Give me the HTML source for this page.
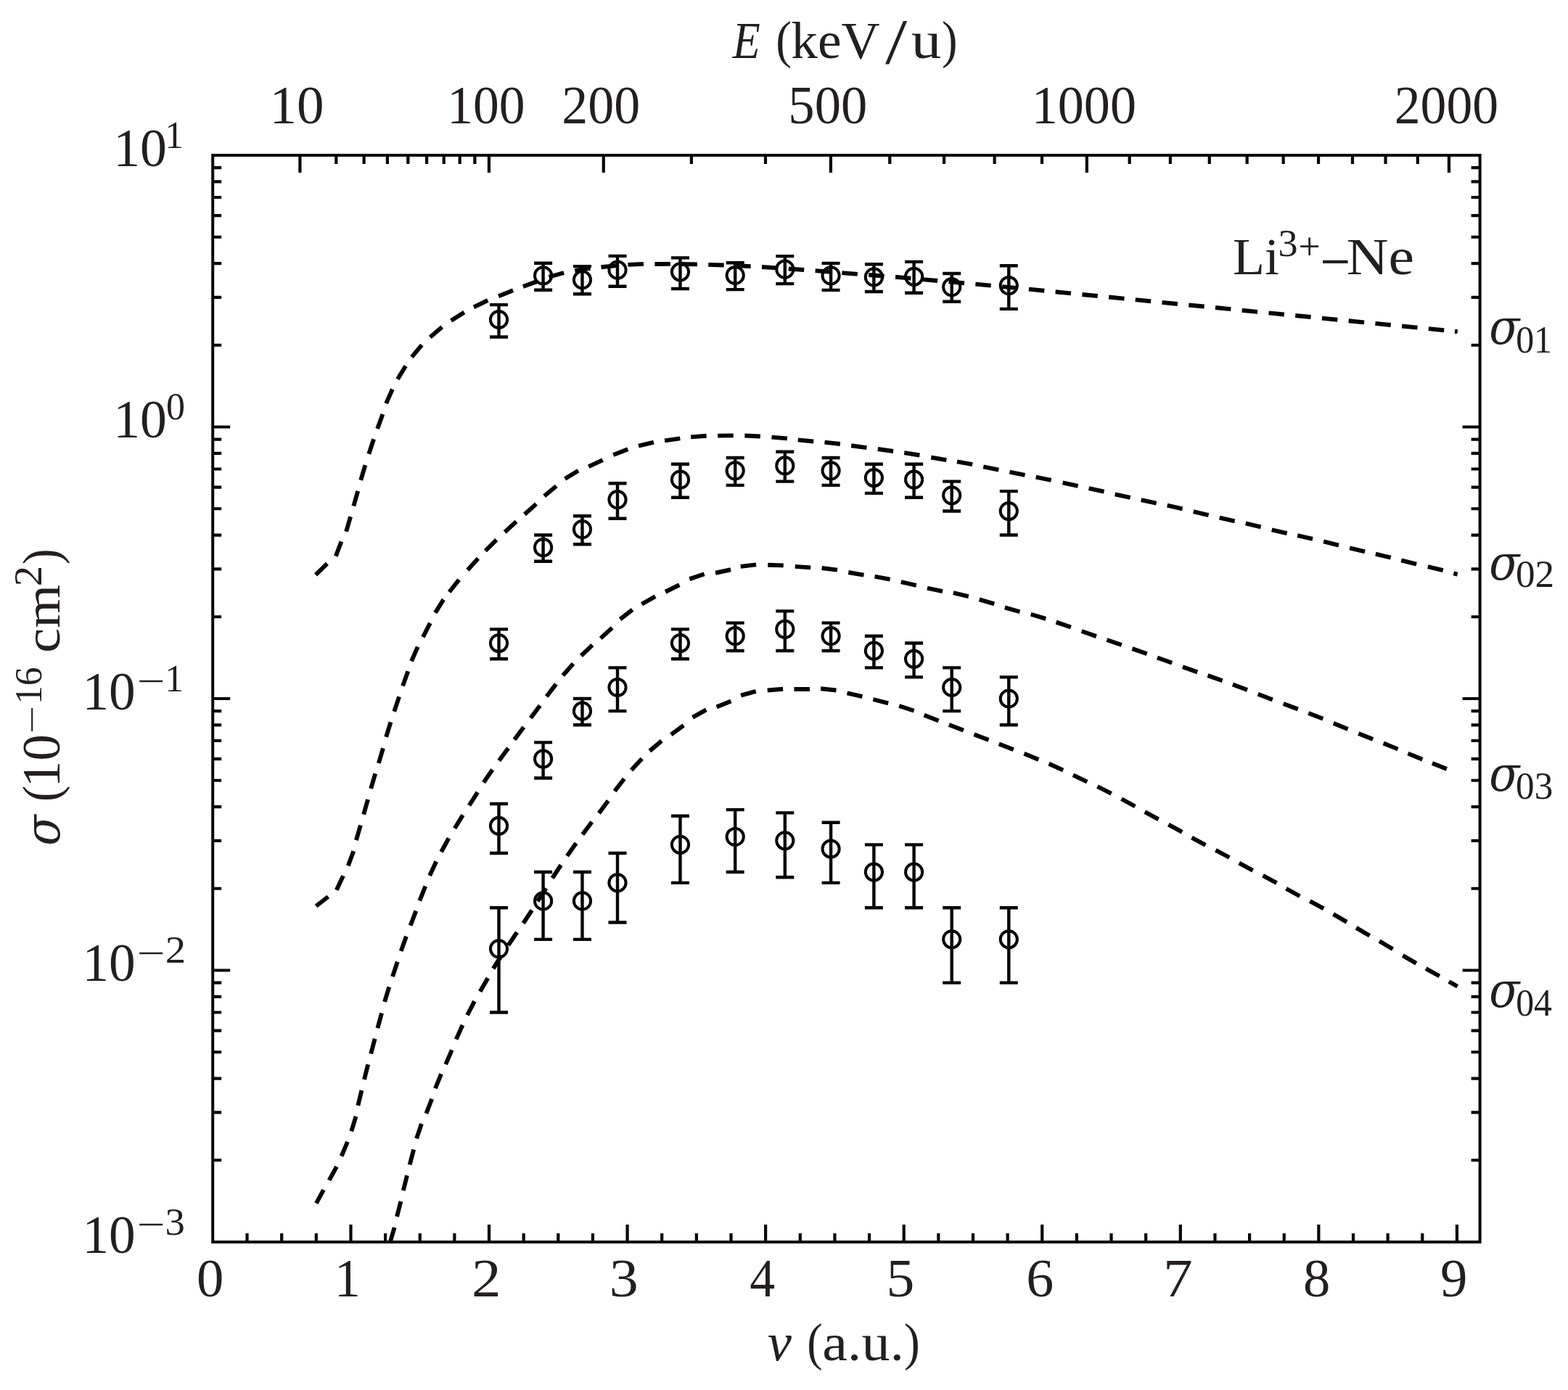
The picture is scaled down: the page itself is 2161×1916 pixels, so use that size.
<!DOCTYPE html>
<html lang="en"><head><meta charset="utf-8"><title>Li3+ - Ne cross sections</title>
<style>html,body{margin:0;padding:0;background:#fff}svg{display:block}</style></head>
<body>
<svg width="2161" height="1916" viewBox="0 0 2161 1916">
<rect width="2161" height="1916" fill="#fff"/>
<g fill="none" stroke="#050505">
<path stroke-width="5.9" stroke-linejoin="round" d="M435.1 792.3L450.9 776.9M462.8 766.6L470.4 746.5M477.11 732.73L483.09 712.07M487.35 697.54L493.25 676.86M497.23 661.8L503.37 641.2M508.3 625.7L515.1 605.3M520.17 591.12L527.43 570.88M532.17 556.14L540.83 536.46M547.92 522.79L559.08 504.41M567.44 492.09L581.36 475.71M592.79 464.64L609.21 450.76M621.62 442.05L639.78 430.55M652.92 423.38L672.28 414.02M687.12 408.2L707.08 400.2M720.9 394.97L741.1 387.63M756.44 381.77L777.16 376.03M792.29 373.11L813.51 369.69M828.5 368.22L849.9 366.18M865.46 364.88L886.94 363.92M902.45 363.93L923.95 363.87M939.35 364.01L960.85 364.39M976.26 364.85L997.74 365.55M1013.16 366.09L1034.64 367.11M1049.97 368.01L1071.43 369.39M1086.78 370.54L1108.22 372.06M1123.58 373.07L1145.02 374.73M1160.38 376.14L1181.82 377.86M1197.18 378.97L1218.62 380.63M1233.99 381.78L1255.41 383.62M1270.79 385.14L1292.21 387.06M1307.59 388.35L1329.01 390.25M1344.4 391.61L1365.8 393.59M1381.2 395.07L1402.6 397.13M1417.9 398.65L1439.3 400.75M1454.6 402.24L1476 404.36M1491.4 405.94L1512.8 408.06M1528.1 409.55L1549.5 411.65M1564.8 413.14L1586.2 415.26M1601.5 416.84L1622.9 418.96M1638.3 420.45L1659.7 422.55M1675 424.04L1696.4 426.16M1711.7 427.74L1733.1 429.86M1748.5 431.35L1769.9 433.45M1785.2 434.94L1806.6 437.06M1821.9 438.64L1843.3 440.76M1858.7 442.25L1880.1 444.35M1895.4 445.84L1916.8 447.96M1932.1 449.54L1953.5 451.66M1968.8 453.15L1990.2 455.25M2005 456.7L2008.7 457.1M435.6 1249L452.3 1236M463.8 1226.71L473 1207.29M479.78 1193.39L487.22 1173.21M490.9 1158.12L496.9 1137.48M501.15 1122.64L507.05 1101.96M511.16 1087.01L517.24 1066.39M521.84 1052.01L527.96 1031.39M532.15 1015.88L538.45 995.32M543.3 980.8L550.1 960.4M555.08 945.42L562.32 925.18M567.09 911.35L575.71 891.65M582.95 878.04L592.85 858.96M599.91 844.62L611.29 826.38M619.2 816L632.6 799.2M644.48 785.66L658.92 769.74M668.97 759.27L684.23 744.13M695.68 733.47L711.52 718.93M723.01 708.99L738.99 694.61M750.15 683.79L766.65 670.01M778.63 660.01L796.97 648.79M811.25 643.12L830.75 634.08M845.26 626.93L865.34 619.27M880.05 614.62L900.95 609.58M916.06 607.44L937.34 604.36M952.18 602.39L973.62 600.81M989.25 600.59L1010.75 600.41M1026.36 600.57L1047.84 601.43M1063.49 602.57L1084.91 604.43M1099.8 606.33L1121.2 608.47M1136.52 609.59L1157.88 612.01M1173.14 614.29L1194.46 617.11M1209.75 619.03L1231.05 621.97M1246.19 624.09L1267.41 627.51M1283.2 630.49L1304.4 634.11M1319.02 636.28L1340.18 640.12M1355.26 643.27L1376.34 647.53M1391.46 650.7L1412.54 654.9M1427.66 657.67L1448.74 661.93M1464.59 665.35L1485.61 669.85M1500.61 673.07L1521.59 677.73M1536.71 681.27L1557.69 685.93M1572.68 689.17L1593.72 693.63M1608.72 696.53L1629.68 701.27M1644.74 705.2L1665.66 710.2M1680.71 713.74L1701.69 718.46M1716.72 721.48L1737.68 726.32M1752.73 730.27L1773.67 735.13M1788.12 738.11L1809.08 742.89M1824.15 746.49L1845.05 751.51M1860.15 755.29L1881.05 760.31M1895.85 763.67L1916.75 768.73M1931.25 772.46L1952.15 777.54M1967.84 781.21L1988.76 786.19M2003.3 790.3L2008.7 791.6M435.9 1658.7L445.9 1640.1M453.64 1626.93L463.96 1608.07M470.65 1593.72L478.95 1573.88M484.31 1559.4L490.49 1538.8M493.39 1523.85L498.41 1502.95M501.97 1488.02L507.23 1467.18M511.16 1452.5L516.64 1431.7M520.4 1417.28L526 1396.52M530.12 1380.9L536.28 1360.3M541.02 1346.1L547.78 1325.7M552.68 1311.02L559.92 1290.78M565.72 1275.76L573.28 1255.64M578.33 1241.59L586.27 1221.61M592.17 1207.05L601.23 1187.55M608.12 1174.22L618.48 1155.38M626.67 1141.76L637.93 1123.44M646.6 1110.25L658.2 1092.15M666.55 1078.59L678.65 1060.81M687.77 1048.59L700.43 1031.21M708.98 1019.52L721.82 1002.28M731.36 989.81L744.24 972.59M753.22 960L766.38 943M775.76 930.93L790.04 914.87M800.92 903.91L816.48 889.09M827.75 879.83L843.65 865.37M854.62 853.6L871.58 840.4M884.44 832.7L903.16 822.1M917.05 815.73L936.35 806.27M950.31 798.13L970.69 791.27M986.09 789.74L1007.11 785.26M1020.72 780.84L1042.08 778.36M1058.25 778.81L1079.75 779.39M1095.78 780.85L1117.22 782.35M1132.63 782.96L1153.97 785.64M1169.3 788.99L1190.5 792.61M1205.54 794.7L1226.66 798.7M1241.81 802.15L1262.79 806.85M1277.98 810.69L1299.02 815.11M1313.83 817.18L1334.77 822.02M1349.68 826.39L1370.32 832.41M1384.87 837.33L1405.53 843.27M1420.69 846.76L1441.31 852.84M1455.63 857.63L1475.97 864.57M1490.65 870.05L1510.95 877.15M1525.44 881.99L1545.76 889.01M1560.47 894.1L1580.73 901.3M1594.99 906.55L1615.21 913.85M1629.96 919.23L1650.24 926.37M1664.47 931.11L1684.73 938.29M1698.93 943.43L1719.07 950.97M1733.75 956.77L1753.85 964.43M1768.75 970L1788.85 977.6M1803.3 982.95L1823.3 990.85M1837.75 996.93L1857.65 1005.07M1872.22 1011.1L1892.18 1019.1M1906.64 1024.57L1926.56 1032.63M1940.45 1038.63L1960.35 1046.77M1973.92 1052.11L1993.88 1060.09M537.6 1712.5L543.6 1692M547.02 1676.91L552.38 1656.09M555.82 1641.14L560.98 1620.26M564.63 1605.39L570.17 1584.61M574.04 1569.38L580.96 1549.02M587.44 1534.83L595.16 1514.77M599.99 1500.27L608.01 1480.33M614.24 1467.07L622.76 1447.33M628.67 1432.6L637.53 1413M644.05 1399.24L653.95 1380.16M661.66 1366.83L672.34 1348.17M679.82 1335.13L691.18 1316.87M700.53 1302.94L712.47 1285.06M721.16 1272.66L733.04 1254.74M740.89 1242.44L752.51 1224.36M761.28 1210.27L773.12 1192.33M781.6 1179.88L794 1162.32M802.86 1150.31L815.74 1133.09M825.38 1120.93L838.22 1103.67M847.11 1090.49L860.29 1073.51M870.09 1061.48L884.71 1045.72M895.38 1035.13L911.82 1021.27M924.86 1012.69L942.14 999.91M954.52 988.85L973.28 978.35M987.56 974.59L1007.44 966.41M1021.05 958.71L1041.75 952.89M1057.68 951.44L1079.12 949.76M1094.45 950.03L1115.95 949.97M1131.11 949.25L1152.49 951.55M1167.52 955.43L1188.48 960.17M1203.4 963.99L1224.2 969.41M1239.19 973.05L1259.61 979.75M1273.57 985.72L1293.63 993.48M1307.87 999.03L1327.93 1006.77M1342.46 1012.35L1362.54 1020.05M1376.78 1025.42L1396.82 1033.18M1411.44 1038.85L1431.36 1046.95M1445.59 1052.81L1465.21 1061.59M1478.9 1068.37L1498.3 1077.63M1512.5 1084.17L1531.7 1093.83M1545.55 1101.28L1564.45 1111.52M1577.77 1119.15L1596.63 1129.45M1610.37 1136.65L1629.23 1146.95M1642.54 1154.6L1661.46 1164.8M1675.43 1171.82L1694.37 1181.98M1707.74 1189.6L1726.66 1199.8M1740.57 1206.85L1759.43 1217.15M1772.56 1224.96L1791.44 1235.24M1805.37 1242.15L1824.23 1252.45M1837.51 1260.09L1856.09 1270.91M1869.13 1278.86L1887.67 1289.74M1901.06 1297.3L1919.54 1308.3M1933.32 1317.08L1951.88 1327.92M1965.11 1335.06L1983.89 1345.54M1996.9 1353L2008.7 1359.7"/>
<path stroke-width="4.4" d="M687.5 420.1V464.5M675 420.1H700M675 464.5H700M748.6 362.8V399.7M736.1 362.8H761.1M736.1 399.7H761.1M802.5 367.1V405.3M790 367.1H815M790 405.3H815M851 352.9V394.8M838.5 352.9H863.5M838.5 394.8H863.5M937.5 355.4V398M925 355.4H950M925 398H950M1013.2 362.2V399.1M1000.7 362.2H1025.7M1000.7 399.1H1025.7M1081.8 353.1V391.1M1069.3 353.1H1094.3M1069.3 391.1H1094.3M1145.1 362.9V399.9M1132.6 362.9H1157.6M1132.6 399.9H1157.6M1204.4 364.2V402M1191.9 364.2H1216.9M1191.9 402H1216.9M1259.6 360.9V403.8M1247.1 360.9H1272.1M1247.1 403.8H1272.1M1311.7 377V415.7M1299.2 377H1324.2M1299.2 415.7H1324.2M1390.3 366.2V425.9M1377.8 366.2H1402.8M1377.8 425.9H1402.8M687.5 867.4V908.28M675 867.4H700M675 908.28H700M748.6 737.53V773.82M736.1 737.53H761.1M736.1 773.82H761.1M802.5 711.3V750.21M790 711.3H815M790 750.21H815M851 666.25V714.8M838.5 666.25H863.5M838.5 714.8H863.5M937.5 639.69V685.73M925 639.69H950M925 685.73H950M1013.2 631.01V668.89M1000.7 631.01H1025.7M1000.7 668.89H1025.7M1081.8 622.77V663.65M1069.3 622.77H1094.3M1069.3 663.65H1094.3M1145.1 631.01V668.89M1132.6 631.01H1157.6M1132.6 668.89H1157.6M1204.4 639.69V679.92M1191.9 639.69H1216.9M1191.9 679.92H1216.9M1259.6 639.69V685.73M1247.1 639.69H1272.1M1247.1 685.73H1272.1M1311.7 663.65V704.52M1299.2 663.65H1324.2M1299.2 704.52H1324.2M1390.3 677.1V737.53M1377.8 677.1H1402.8M1377.8 737.53H1402.8M687.5 1108.01V1175.95M675 1108.01H700M675 1175.95H700M748.6 1023.35V1072.51M736.1 1023.35H761.1M736.1 1072.51H761.1M802.5 963V999.29M790 963H815M790 999.29H815M851 920.33V980.14M838.5 920.33H863.5M838.5 980.14H863.5M937.5 867.4V908.28M925 867.4H950M925 908.28H950M1013.2 858.61V897.05M1000.7 858.61H1025.7M1000.7 897.05H1025.7M1081.8 842.33V897.05M1069.3 842.33H1094.3M1069.3 897.05H1094.3M1145.1 858.61V897.05M1132.6 858.61H1157.6M1132.6 897.05H1157.6M1204.4 876.7V920.33M1191.9 876.7H1216.9M1191.9 920.33H1216.9M1259.6 886.56V933.35M1247.1 886.56H1272.1M1247.1 933.35H1272.1M1311.7 920.33V980.14M1299.2 920.33H1324.2M1299.2 980.14H1324.2M1390.3 933.35V999.29M1377.8 933.35H1402.8M1377.8 999.29H1402.8M687.5 1251.2V1395.51M675 1251.2H700M675 1395.51H700M748.6 1202.03V1294.83M736.1 1202.03H761.1M736.1 1294.83H761.1M802.5 1202.03V1294.83M790 1202.03H815M790 1294.83H815M851 1175.95V1271.55M838.5 1175.95H863.5M838.5 1271.55H863.5M937.5 1124.71V1216.83M925 1124.71H950M925 1216.83H950M1013.2 1116.15V1202.03M1000.7 1116.15H1025.7M1000.7 1202.03H1025.7M1081.8 1120.37V1209.26M1069.3 1120.37H1094.3M1069.3 1209.26H1094.3M1145.1 1133.75V1216.83M1132.6 1133.75H1157.6M1132.6 1216.83H1157.6M1204.4 1164.33V1251.2M1191.9 1164.33H1216.9M1191.9 1251.2H1216.9M1259.6 1164.33V1251.2M1247.1 1164.33H1272.1M1247.1 1251.2H1272.1M1311.7 1251.2V1354.64M1299.2 1251.2H1324.2M1299.2 1354.64H1324.2M1390.3 1251.2V1354.64M1377.8 1251.2H1402.8M1377.8 1354.64H1402.8"/>
<g stroke-width="4.0"><circle cx="687.5" cy="440.5" r="11.6"/><circle cx="748.6" cy="379.9" r="11.6"/><circle cx="802.5" cy="385.7" r="11.6"/><circle cx="851" cy="372.2" r="11.6"/><circle cx="937.5" cy="374.8" r="11.6"/><circle cx="1013.2" cy="379.5" r="11.6"/><circle cx="1081.8" cy="371.1" r="11.6"/><circle cx="1145.1" cy="379.9" r="11.6"/><circle cx="1204.4" cy="381.9" r="11.6"/><circle cx="1259.6" cy="381.3" r="11.6"/><circle cx="1311.7" cy="395.6" r="11.6"/><circle cx="1390.3" cy="393.6" r="11.6"/><circle cx="687.5" cy="886.56" r="11.6"/><circle cx="748.6" cy="754.66" r="11.6"/><circle cx="802.5" cy="729.59" r="11.6"/><circle cx="851" cy="688.72" r="11.6"/><circle cx="937.5" cy="661.09" r="11.6"/><circle cx="1013.2" cy="648.85" r="11.6"/><circle cx="1081.8" cy="641.93" r="11.6"/><circle cx="1145.1" cy="648.85" r="11.6"/><circle cx="1204.4" cy="658.56" r="11.6"/><circle cx="1259.6" cy="661.09" r="11.6"/><circle cx="1311.7" cy="682.8" r="11.6"/><circle cx="1390.3" cy="704.52" r="11.6"/><circle cx="687.5" cy="1138.46" r="11.6"/><circle cx="748.6" cy="1046.08" r="11.6"/><circle cx="802.5" cy="980.14" r="11.6"/><circle cx="851" cy="947.5" r="11.6"/><circle cx="937.5" cy="886.56" r="11.6"/><circle cx="1013.2" cy="876.7" r="11.6"/><circle cx="1081.8" cy="867.4" r="11.6"/><circle cx="1145.1" cy="876.7" r="11.6"/><circle cx="1204.4" cy="897.05" r="11.6"/><circle cx="1259.6" cy="908.28" r="11.6"/><circle cx="1311.7" cy="947.5" r="11.6"/><circle cx="1390.3" cy="963" r="11.6"/><circle cx="687.5" cy="1307.85" r="11.6"/><circle cx="748.6" cy="1241.9" r="11.6"/><circle cx="802.5" cy="1241.9" r="11.6"/><circle cx="851" cy="1216.83" r="11.6"/><circle cx="937.5" cy="1164.33" r="11.6"/><circle cx="1013.2" cy="1153.49" r="11.6"/><circle cx="1081.8" cy="1158.82" r="11.6"/><circle cx="1145.1" cy="1170.04" r="11.6"/><circle cx="1204.4" cy="1202.03" r="11.6"/><circle cx="1259.6" cy="1202.03" r="11.6"/><circle cx="1311.7" cy="1294.83" r="11.6"/><circle cx="1390.3" cy="1294.83" r="11.6"/></g>
<path stroke-width="4.2" d="M340.54 1712L340.54 1700M388.18 1712L388.18 1700M435.82 1712L435.82 1700M483.46 1712L483.46 1688M531.1 1712L531.1 1700M578.74 1712L578.74 1700M626.38 1712L626.38 1700M674.02 1712L674.02 1688M721.66 1712L721.66 1700M769.3 1712L769.3 1700M816.94 1712L816.94 1700M864.58 1712L864.58 1688M912.22 1712L912.22 1700M959.86 1712L959.86 1700M1007.5 1712L1007.5 1700M1055.14 1712L1055.14 1688M1102.78 1712L1102.78 1700M1150.42 1712L1150.42 1700M1198.06 1712L1198.06 1700M1245.7 1712L1245.7 1688M1293.34 1712L1293.34 1700M1340.98 1712L1340.98 1700M1388.62 1712L1388.62 1700M1436.26 1712L1436.26 1688M1483.9 1712L1483.9 1700M1531.54 1712L1531.54 1700M1579.18 1712L1579.18 1700M1626.82 1712L1626.82 1688M1674.46 1712L1674.46 1700M1722.1 1712L1722.1 1700M1769.74 1712L1769.74 1700M1817.38 1712L1817.38 1688M1865.02 1712L1865.02 1700M1912.66 1712L1912.66 1700M1960.3 1712L1960.3 1700M2007.94 1712L2007.94 1688M413.4 214L413.4 238M673.94 214L673.94 238M831.78 214L831.78 238M1144.94 214L1144.94 238M1497.87 214L1497.87 238M1996.98 214L1996.98 238M463.31 214L463.31 226M501.61 214L501.61 226M533.89 214L533.89 226M562.34 214L562.34 226M588.06 214L588.06 226M611.7 214L611.7 226M633.72 214L633.72 226M654.39 214L654.39 226M952.89 214L952.89 226M1054.99 214L1054.99 226M1226.26 214L1226.26 226M1301.05 214L1301.05 226M1370.65 214L1370.65 226M1436.03 214L1436.03 226M1556.68 214L1556.68 226M1612.87 214L1612.87 226M1666.77 214L1666.77 226M1718.64 214L1718.64 226M1768.68 214L1768.68 226M1817.08 214L1817.08 226M1863.98 214L1863.98 226M1909.53 214L1909.53 226M1953.83 214L1953.83 226M293.2 1599.26L305.2 1599.26M2039.6 1599.26L2027.6 1599.26M293.2 1533.32L305.2 1533.32M2039.6 1533.32L2027.6 1533.32M293.2 1486.53L305.2 1486.53M2039.6 1486.53L2027.6 1486.53M293.2 1450.24L305.2 1450.24M2039.6 1450.24L2027.6 1450.24M293.2 1420.58L305.2 1420.58M2039.6 1420.58L2027.6 1420.58M293.2 1395.51L305.2 1395.51M2039.6 1395.51L2027.6 1395.51M293.2 1373.79L305.2 1373.79M2039.6 1373.79L2027.6 1373.79M293.2 1354.64L305.2 1354.64M2039.6 1354.64L2027.6 1354.64M293.2 1337.5L317.2 1337.5M2039.6 1337.5L2015.6 1337.5M293.2 1224.76L305.2 1224.76M2039.6 1224.76L2027.6 1224.76M293.2 1158.82L305.2 1158.82M2039.6 1158.82L2027.6 1158.82M293.2 1112.03L305.2 1112.03M2039.6 1112.03L2027.6 1112.03M293.2 1075.74L305.2 1075.74M2039.6 1075.74L2027.6 1075.74M293.2 1046.08L305.2 1046.08M2039.6 1046.08L2027.6 1046.08M293.2 1021.01L305.2 1021.01M2039.6 1021.01L2027.6 1021.01M293.2 999.29L305.2 999.29M2039.6 999.29L2027.6 999.29M293.2 980.14L305.2 980.14M2039.6 980.14L2027.6 980.14M293.2 963L317.2 963M2039.6 963L2015.6 963M293.2 850.26L305.2 850.26M2039.6 850.26L2027.6 850.26M293.2 784.32L305.2 784.32M2039.6 784.32L2027.6 784.32M293.2 737.53L305.2 737.53M2039.6 737.53L2027.6 737.53M293.2 701.24L305.2 701.24M2039.6 701.24L2027.6 701.24M293.2 671.58L305.2 671.58M2039.6 671.58L2027.6 671.58M293.2 646.51L305.2 646.51M2039.6 646.51L2027.6 646.51M293.2 624.79L305.2 624.79M2039.6 624.79L2027.6 624.79M293.2 605.64L305.2 605.64M2039.6 605.64L2027.6 605.64M293.2 588.5L317.2 588.5M2039.6 588.5L2015.6 588.5M293.2 475.76L305.2 475.76M2039.6 475.76L2027.6 475.76M293.2 409.82L305.2 409.82M2039.6 409.82L2027.6 409.82M293.2 363.03L305.2 363.03M2039.6 363.03L2027.6 363.03M293.2 326.74L305.2 326.74M2039.6 326.74L2027.6 326.74M293.2 297.08L305.2 297.08M2039.6 297.08L2027.6 297.08M293.2 272.01L305.2 272.01M2039.6 272.01L2027.6 272.01M293.2 250.29L305.2 250.29M2039.6 250.29L2027.6 250.29M293.2 231.14L305.2 231.14M2039.6 231.14L2027.6 231.14"/>
<rect x="293.2" y="214" width="1746.4" height="1498" stroke-width="4.0"/>
</g>
<g font-family="'Liberation Serif', 'DejaVu Serif', serif" font-size="72" fill="#231f20" xml:space="preserve">
<text><tspan x="1009.68" y="79.8" font-size="72.52" textLength="38.01" lengthAdjust="spacingAndGlyphs" font-style="italic">E</tspan> <tspan x="1069.27" y="79.45" font-size="72.73" textLength="21.68" lengthAdjust="spacingAndGlyphs">(</tspan><tspan x="1090.23" y="79.54" font-size="70.99" textLength="122.48" lengthAdjust="spacingAndGlyphs">keV</tspan><tspan x="1220.1" y="87.02" font-size="88.06" textLength="30.14" lengthAdjust="spacingAndGlyphs">/</tspan><tspan x="1255.76" y="80.07" font-size="72.55" textLength="41.49" lengthAdjust="spacingAndGlyphs">u</tspan><tspan x="1298.09" y="79.45" font-size="72.73" textLength="21.6" lengthAdjust="spacingAndGlyphs">)</tspan></text>
<text><tspan x="371.43" y="169.76" font-size="74.07" textLength="75.14" lengthAdjust="spacingAndGlyphs">10</tspan></text>
<text><tspan x="616.23" y="169.76" font-size="74.07" textLength="107.45" lengthAdjust="spacingAndGlyphs">100</tspan></text>
<text><tspan x="774.26" y="169.76" font-size="74.07" textLength="107.94" lengthAdjust="spacingAndGlyphs">200</tspan></text>
<text><tspan x="1086.33" y="169.76" font-size="74.07" textLength="108.9" lengthAdjust="spacingAndGlyphs">500</tspan></text>
<text><tspan x="1421.69" y="169.76" font-size="74.07" textLength="144.27" lengthAdjust="spacingAndGlyphs">1000</tspan></text>
<text><tspan x="1921.77" y="169.76" font-size="74.07" textLength="143.42" lengthAdjust="spacingAndGlyphs">2000</tspan></text>
<text><tspan x="270.95" y="1786.9" font-size="74.07" textLength="37.35" lengthAdjust="spacingAndGlyphs">0</tspan></text>
<text><tspan x="460.67" y="1786.9" font-size="74.07" textLength="36.17" lengthAdjust="spacingAndGlyphs">1</tspan></text>
<text><tspan x="650.09" y="1786.9" font-size="74.07" textLength="40.62" lengthAdjust="spacingAndGlyphs">2</tspan></text>
<text><tspan x="839.7" y="1786.9" font-size="74.07" textLength="40" lengthAdjust="spacingAndGlyphs">3</tspan></text>
<text><tspan x="1033.35" y="1786.9" font-size="74.07" textLength="34.95" lengthAdjust="spacingAndGlyphs">4</tspan></text>
<text><tspan x="1221.54" y="1786.9" font-size="74.07" textLength="38.82" lengthAdjust="spacingAndGlyphs">5</tspan></text>
<text><tspan x="1414.27" y="1786.9" font-size="74.07" textLength="38.01" lengthAdjust="spacingAndGlyphs">6</tspan></text>
<text><tspan x="1602.95" y="1786.9" font-size="74.07" textLength="40.74" lengthAdjust="spacingAndGlyphs">7</tspan></text>
<text><tspan x="1795.95" y="1786.9" font-size="74.07" textLength="37.35" lengthAdjust="spacingAndGlyphs">8</tspan></text>
<text><tspan x="1985.07" y="1786.9" font-size="74.07" textLength="37.43" lengthAdjust="spacingAndGlyphs">9</tspan></text>
<text><tspan x="1058.09" y="1875.06" font-size="74.04" textLength="32.93" lengthAdjust="spacingAndGlyphs" font-style="italic">v</tspan> <tspan x="1112.21" y="1874.38" font-size="71.63" textLength="21.42" lengthAdjust="spacingAndGlyphs">(</tspan><tspan x="1133.16" y="1875.12" font-size="71.75" textLength="112.93" lengthAdjust="spacingAndGlyphs">a.u.</tspan><tspan x="1245.97" y="1874.38" font-size="71.63" textLength="21.86" lengthAdjust="spacingAndGlyphs">)</tspan></text>
<text><tspan x="156.15" y="228.77" font-size="73.33" textLength="73.71" lengthAdjust="spacingAndGlyphs">10</tspan><tspan x="227.28" y="203.7" font-size="53.33" textLength="25.82" lengthAdjust="spacingAndGlyphs">1</tspan></text>
<text><tspan x="156.15" y="603.27" font-size="73.33" textLength="73.71" lengthAdjust="spacingAndGlyphs">10</tspan><tspan x="228.95" y="578.2" font-size="53.33" textLength="26" lengthAdjust="spacingAndGlyphs">0</tspan></text>
<text><tspan x="113.39" y="977.77" font-size="73.33" textLength="73.26" lengthAdjust="spacingAndGlyphs">10</tspan><tspan x="188.56" y="955.06" font-size="48" textLength="38.81" lengthAdjust="spacingAndGlyphs">−</tspan><tspan x="227.28" y="952.7" font-size="53.33" textLength="25.82" lengthAdjust="spacingAndGlyphs">1</tspan></text>
<text><tspan x="113.39" y="1352.27" font-size="73.33" textLength="73.26" lengthAdjust="spacingAndGlyphs">10</tspan><tspan x="188.56" y="1329.56" font-size="48" textLength="38.81" lengthAdjust="spacingAndGlyphs">−</tspan><tspan x="227.75" y="1327.2" font-size="53.33" textLength="28.37" lengthAdjust="spacingAndGlyphs">2</tspan></text>
<text><tspan x="113.39" y="1726.77" font-size="73.33" textLength="73.26" lengthAdjust="spacingAndGlyphs">10</tspan><tspan x="188.56" y="1704.06" font-size="48" textLength="38.81" lengthAdjust="spacingAndGlyphs">−</tspan><tspan x="227.4" y="1701.7" font-size="53.33" textLength="27.39" lengthAdjust="spacingAndGlyphs">3</tspan></text>
<text transform="rotate(-90)"><tspan x="-1165.8" y="81.99" font-size="67.29" textLength="42.41" lengthAdjust="spacingAndGlyphs" font-style="italic" font-family="'DejaVu Serif', 'Liberation Serif', serif">σ</tspan> <tspan x="-1105" y="81.34" font-size="72.29" textLength="22.2" lengthAdjust="spacingAndGlyphs">(</tspan><tspan x="-1085.41" y="82.27" font-size="73.04" textLength="73.26" lengthAdjust="spacingAndGlyphs">10</tspan><tspan x="-1011.33" y="58.73" font-size="44" textLength="38.69" lengthAdjust="spacingAndGlyphs">−</tspan><tspan x="-971.01" y="57.27" font-size="53.38" textLength="51.56" lengthAdjust="spacingAndGlyphs">16</tspan> <tspan x="-900.09" y="82.09" font-size="70.62" textLength="94.19" lengthAdjust="spacingAndGlyphs">cm</tspan><tspan x="-808.36" y="57.3" font-size="54.04" textLength="28.5" lengthAdjust="spacingAndGlyphs">2</tspan><tspan x="-778.15" y="81.34" font-size="72.29" textLength="21.98" lengthAdjust="spacingAndGlyphs">)</tspan></text>
<text><tspan x="1699.14" y="377.8" font-size="71.7" textLength="64.01" lengthAdjust="spacingAndGlyphs">Li</tspan><tspan x="1761.42" y="353.07" font-size="52.94" textLength="27.15" lengthAdjust="spacingAndGlyphs">3</tspan><tspan x="1789.51" y="356.87" font-size="52.69" textLength="30.32" lengthAdjust="spacingAndGlyphs">+</tspan><tspan x="1823.5" y="380.74" font-size="86" textLength="33.59" lengthAdjust="spacingAndGlyphs">–</tspan><tspan x="1855.8" y="377.77" font-size="72.93" textLength="93.28" lengthAdjust="spacingAndGlyphs">Ne</tspan></text>
<text><tspan x="2052.32" y="473.99" font-size="67.29" textLength="42.2" lengthAdjust="spacingAndGlyphs" font-style="italic" font-family="'DejaVu Serif', 'Liberation Serif', serif">σ</tspan><tspan x="2089.13" y="486.47" font-size="53.33" textLength="49.97" lengthAdjust="spacingAndGlyphs">01</tspan></text>
<text><tspan x="2052.32" y="798.9" font-size="66.54" textLength="42.2" lengthAdjust="spacingAndGlyphs" font-style="italic" font-family="'DejaVu Serif', 'Liberation Serif', serif">σ</tspan><tspan x="2089" y="809.47" font-size="53.19" textLength="53.22" lengthAdjust="spacingAndGlyphs">02</tspan></text>
<text><tspan x="2052.32" y="1089.89" font-size="67.1" textLength="42.2" lengthAdjust="spacingAndGlyphs" font-style="italic" font-family="'DejaVu Serif', 'Liberation Serif', serif">σ</tspan><tspan x="2089.08" y="1101.37" font-size="53.19" textLength="51.17" lengthAdjust="spacingAndGlyphs">03</tspan></text>
<text><tspan x="2052.32" y="1387.9" font-size="66.92" textLength="42.2" lengthAdjust="spacingAndGlyphs" font-style="italic" font-family="'DejaVu Serif', 'Liberation Serif', serif">σ</tspan><tspan x="2089.13" y="1400.47" font-size="53.33" textLength="49.82" lengthAdjust="spacingAndGlyphs">04</tspan></text>
</g>
</svg>
</body></html>
